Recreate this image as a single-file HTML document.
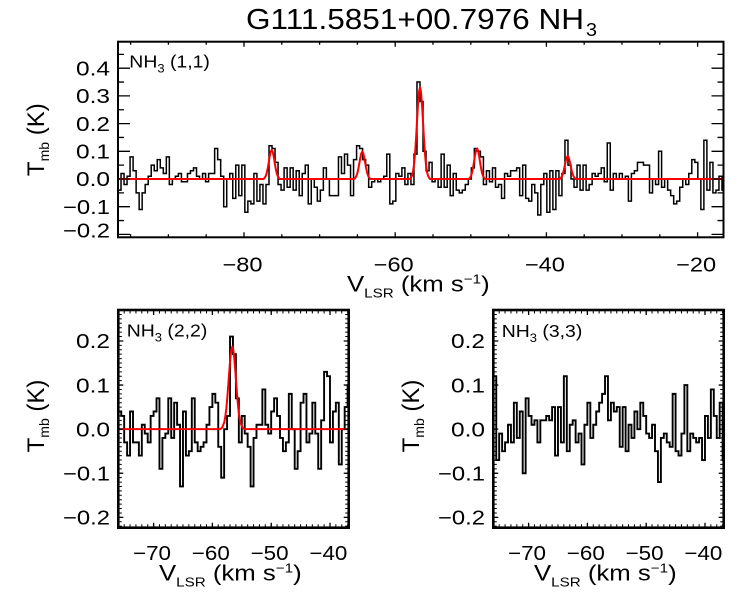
<!DOCTYPE html>
<html>
<head>
<meta charset="utf-8">
<style>
  html, body { margin: 0; padding: 0; background: #ffffff; }
  svg { display: block; }
  text { font-family: "Liberation Sans", Arial, Helvetica, sans-serif; fill: #000; }
</style>
</head>
<body>
<svg width="750" height="600" viewBox="0 0 750 600" xmlns="http://www.w3.org/2000/svg">
  <defs>
    <clipPath id="ctop"><rect x="118" y="41.7" width="605.5" height="195.6"/></clipPath>
    <clipPath id="cbl"><rect x="118.3" y="310" width="230.4" height="217.7"/></clipPath>
    <clipPath id="cbr"><rect x="493.3" y="310" width="230.4" height="217.7"/></clipPath>
  </defs>
  <rect x="0" y="0" width="750" height="600" fill="#fff"/>

  <!-- ================= TITLE ================= -->
  <text x="246" y="29" font-size="29" textLength="338" lengthAdjust="spacingAndGlyphs">G111.5851+00.7976 NH</text>
  <text x="586" y="36" font-size="18" textLength="11" lengthAdjust="spacingAndGlyphs">3</text>

  <!-- ================= TOP PANEL ================= -->
  <g clip-path="url(#ctop)">
    <path transform="matrix(3.02,0,0,-2.77,118,179)" vector-effect="non-scaling-stroke" fill="none" stroke="#000" stroke-width="1.5"
      d="M0 -4H1V2H2V-2H3V1H4V8H5V3H6V-5H7V-11H8V-5H9V-2H10V1H11V5H12V3H13V7H14V4H15V2H16V8H17V-2H18V0H19V1H20V2H21V-1H22V-1H23V2H24V3H25V4H26V1H27V0H28V2H29V-1H30V2H31V2H32V11H33V7H34V1H35V-10H36V0H37V2H38V-7H39V5H40V-6H41V5H42V-12H43V-8H44V-9H45V2H46V-8H47V-2H48V-9H49V-2H50V12H51V11H52V6H53V-2H54V-4H55V4H56V-3H57V4H58V-4H59V3H60V-6H61V2H62V5H63V-9H64V0H65V-3H66V-8H67V-4H68V4H69V0H70V-6H71V-6H72V-6H73V8H74V2H75V9H76V5H77V-6H78V7H79V12H80V11H81V7H82V5H83V-3H84V-1H85V0H86V-1H87V0H88V1H89V9H90V-9H91V-8H92V2H93V1H94V4H95V-2H96V2H97V-2H98V9H99V35H100V28H101V10H102V3H103V6H104V-1H105V0H106V-3H107V9H108V-3H109V5H110V-6H111V2H112V-4H113V-5H114V-4H115V-2H116V0H117V4H118V11H119V10H120V8H121V-2H122V3H123V-1H124V4H125V-3H126V-2H127V-7H128V2H129V1H130V3H131V3H132V4H133V-6H134V5H135V-7H136V-8H137V-2H138V-5H139V-13H140V-2H141V2H142V-12H143V3H144V-11H145V3H146V-6H147V2H148V14H149V5H150V0H151V-3H152V5H153V-4H154V5H155V-4H156V-2H157V2H158V1H159V2H160V4H161V-1H162V13H163V-4H164V2H165V0H166V2H167V0H168V1H169V-8H170V2H171V3H172V6H173V6H174V5H175V5H176V-5H177V0H178V-2H179V10H180V-3H181V0H182V-4H183V-6H184V-9H185V-8H186V-3H187V0H188V-2H189V2H190V7H191V6H192V0H193V-11H194V14H195V-4H196V6H197V-5H198V-4H199V1H200V-4H201.5"/>
    <path fill="none" stroke="#ff0000" stroke-width="2" stroke-linejoin="round"
      d="M118 179H263.7L264.7 177.7 265.7 176.1 266.7 173.1 267.7 168.5 268.7 162.6 269.7 156.4 270.7 151.7 271.7 149.9 272.7 151.7 273.7 156.4 274.7 162.6 275.7 168.5 276.7 173.1 277.7 176.1 278.7 177.7 279.7 179H354.3L355.3 177.8 356.3 176.2 357.3 173.4 358.3 169.1 359.3 163.6 360.3 157.8 361.3 153.3 362.3 151.6 363.3 153.3 364.3 157.8 365.3 163.6 366.3 169.1 367.3 173.4 368.3 176.2 369.3 177.8 370.3 179H410L411 177.6 412 175.7 413 171.8 414 164.9 415 154.1 416 139.1 417 121.6 418 104.5 419 92 420 87.3 421 92 422 104.5 423 121.6 424 139.1 425 154.1 426 164.9 427 171.8 428 175.7 429 177.6 430 179H469L470 177.7 471 175.9 472 172.8 473 168 474 161.8 475 155.4 476 150.4 477 148.5 478 150.4 479 155.4 480 161.8 481 168 482 172.8 483 175.9 484 177.7 485 179H559.7L560.7 178 561.7 176.7 562.7 174.3 563.7 170.7 564.7 166.1 565.7 161.2 566.7 157.4 567.7 156 568.7 157.4 569.7 161.2 570.7 166.1 571.7 170.7 572.7 174.3 573.7 176.7 574.7 178 575.7 179H723.5"/>
  </g>
  <!-- ticks -->
  <path fill="none" stroke="#000" stroke-width="1.3"
    d="M244 237.3v-5M395.2 237.3v-5M546.4 237.3v-5M697.6 237.3v-5
       M244 41.7v5M395.2 41.7v5M546.4 41.7v5M697.6 41.7v5
       M130.6 237.3v-3M168.4 237.3v-3M206.2 237.3v-3M281.8 237.3v-3M319.6 237.3v-3M357.4 237.3v-3M433 237.3v-3M470.8 237.3v-3M508.6 237.3v-3M584.2 237.3v-3M622 237.3v-3M659.8 237.3v-3
       M130.6 41.7v3M168.4 41.7v3M206.2 41.7v3M281.8 41.7v3M319.6 41.7v3M357.4 41.7v3M433 41.7v3M470.8 41.7v3M508.6 41.7v3M584.2 41.7v3M622 41.7v3M659.8 41.7v3
       M118 234.4h12M118 206.7h12M118 179h12M118 151.3h12M118 123.6h12M118 95.9h12M118 68.2h12
       M723.5 234.4h-12M723.5 206.7h-12M723.5 179h-12M723.5 151.3h-12M723.5 123.6h-12M723.5 95.9h-12M723.5 68.2h-12
       M118 220.55h6M118 192.85h6M118 165.15h6M118 137.45h6M118 109.75h6M118 82.05h6M118 54.35h6
       M723.5 220.55h-6M723.5 192.85h-6M723.5 165.15h-6M723.5 137.45h-6M723.5 109.75h-6M723.5 82.05h-6M723.5 54.35h-6"/>
  <rect x="118" y="41.7" width="605.5" height="195.6" fill="none" stroke="#000" stroke-width="2"/>

  <!-- top y tick labels -->
  <g font-size="20">
    <text x="76" y="75.4" textLength="34" lengthAdjust="spacingAndGlyphs">0.4</text>
    <text x="76" y="103.1" textLength="34" lengthAdjust="spacingAndGlyphs">0.3</text>
    <text x="76" y="130.8" textLength="34" lengthAdjust="spacingAndGlyphs">0.2</text>
    <text x="76" y="158.5" textLength="34" lengthAdjust="spacingAndGlyphs">0.1</text>
    <text x="76" y="186.2" textLength="34" lengthAdjust="spacingAndGlyphs">0.0</text>
    <text x="63" y="213.9" textLength="47" lengthAdjust="spacingAndGlyphs">−0.1</text>
    <text x="63" y="237.5" textLength="47" lengthAdjust="spacingAndGlyphs">−0.2</text>
    <!-- top x tick labels -->
    <text x="222.5" y="271.5" textLength="40" lengthAdjust="spacingAndGlyphs">−80</text>
    <text x="373.7" y="271.5" textLength="40" lengthAdjust="spacingAndGlyphs">−60</text>
    <text x="524.9" y="271.5" textLength="40" lengthAdjust="spacingAndGlyphs">−40</text>
    <text x="676.1" y="271.5" textLength="40" lengthAdjust="spacingAndGlyphs">−20</text>
  </g>
  <!-- top x title -->
  <g transform="translate(347,291.5) scale(1.17,1)">
    <text x="0" y="0" font-size="22">V<tspan font-size="13" dy="6">LSR</tspan><tspan font-size="22" dy="-6"> (km s</tspan><tspan font-size="13" dy="-8">−1</tspan><tspan font-size="22" dy="8">)</tspan></text>
  </g>
  <!-- top y title -->
  <g transform="translate(44,139.7) rotate(-90)">
    <text x="0" y="0" font-size="24" text-anchor="middle">T<tspan font-size="14" dy="5">mb</tspan><tspan font-size="24" dy="-5"> (K)</tspan></text>
  </g>
  <!-- top label -->
  <g transform="translate(129.3,67.7) scale(1.08,1)">
    <text x="0" y="0" font-size="18">NH<tspan font-size="12" dy="5">3</tspan><tspan font-size="18" dy="-5"> (1,1)</tspan></text>
  </g>

  <!-- ================= BOTTOM-LEFT PANEL ================= -->
  <g clip-path="url(#cbl)">
    <path transform="matrix(2.94,0,0,-4.41,118.3,429.15)" vector-effect="non-scaling-stroke" fill="none" stroke="#000" stroke-width="1.9"
      d="M0 4H1V3H2V-3H3V-6H4V4H5V-3H6V-3H7V-6H8V1H9V-1H10V-3H11V3H12V4H13V7H14V-9H15V-2H16V-1H17V7H18V-2H19V6H20V1H21V-13H22V4H23V-6H24V-5H25V7H26V-3H27V-5H28V-4H29V-3H30V1H31V5H32V8H33V6H34V-4H35V-11H36V0H37V3H38V21H39V17H40V7H41V-3H42V3H43V-1H44V-4H45V-13H46V-2H47V1H48V1H49V9H50V1H51V-1H52V4H53V7H54V3H55V-2H56V-5H57V-3H58V8H59V0H60V-9H61V-5H62V6H63V8H64V-3H65V-1H66V6H67V-1H68V-9H69V2H70V13H71V12H72V-3H73V4H74V6H75V-8H76V0H77V5H78V10H79"/>
    <path fill="none" stroke="#ff0000" stroke-width="2" stroke-linejoin="round"
      d="M118.3 429.15H220.3L222.3 427.4 224.3 422.1 225.3 416.7 226.3 408.6 227.3 397.7 228.3 384.7 229.3 370.9 230.3 358.4 231.3 349.8 232.3 346.7 233.3 349.8 234.3 358.4 235.3 370.9 236.3 384.7 237.3 397.7 238.3 408.6 239.3 416.7 240.3 422.1 242.3 427.4 244.3 429.15H348.7"/>
  </g>
  <g fill="none" stroke="#000">
    <path stroke-width="1.3"
      d="M153.6 527.7v-5M212.4 527.7v-5M271.2 527.7v-5M330 527.7v-5
         M153.6 310v5M212.4 310v5M271.2 310v5M330 310v5
         M118.3 341h5M118.3 385.05h5M118.3 429.15h5M118.3 473.25h5M118.3 517.35h5
         M348.7 341h-5M348.7 385.05h-5M348.7 429.15h-5M348.7 473.25h-5M348.7 517.35h-5"/>
    <line x1="117.8" y1="525.9" x2="348.7" y2="525.9" stroke-width="3.4" stroke-dasharray="1 4.88"/>
    <line x1="117.8" y1="311.8" x2="348.7" y2="311.8" stroke-width="3.4" stroke-dasharray="1 4.88"/>
    <line x1="120.1" y1="526.67" x2="120.1" y2="309.5" stroke-width="3.4" stroke-dasharray="1 3.41"/>
    <line x1="346.9" y1="526.67" x2="346.9" y2="309.5" stroke-width="3.4" stroke-dasharray="1 3.41"/>
    <rect x="118.3" y="310" width="230.4" height="217.7" stroke-width="2.6"/>
  </g>
  <g font-size="20">
    <text x="76" y="348.2" textLength="34" lengthAdjust="spacingAndGlyphs">0.2</text>
    <text x="76" y="392.25" textLength="34" lengthAdjust="spacingAndGlyphs">0.1</text>
    <text x="76" y="436.35" textLength="34" lengthAdjust="spacingAndGlyphs">0.0</text>
    <text x="63" y="480.45" textLength="47" lengthAdjust="spacingAndGlyphs">−0.1</text>
    <text x="63" y="524.55" textLength="47" lengthAdjust="spacingAndGlyphs">−0.2</text>
    <text x="133" y="560" textLength="38" lengthAdjust="spacingAndGlyphs">−70</text>
    <text x="191.8" y="560" textLength="38" lengthAdjust="spacingAndGlyphs">−60</text>
    <text x="250.6" y="560" textLength="38" lengthAdjust="spacingAndGlyphs">−50</text>
    <text x="309.4" y="560" textLength="38" lengthAdjust="spacingAndGlyphs">−40</text>
  </g>
  <g transform="translate(159,580.5) scale(1.17,1)">
    <text x="0" y="0" font-size="22">V<tspan font-size="13" dy="6">LSR</tspan><tspan font-size="22" dy="-6"> (km s</tspan><tspan font-size="13" dy="-8">−1</tspan><tspan font-size="22" dy="8">)</tspan></text>
  </g>
  <g transform="translate(44,416) rotate(-90)">
    <text x="0" y="0" font-size="24" text-anchor="middle">T<tspan font-size="14" dy="5">mb</tspan><tspan font-size="24" dy="-5"> (K)</tspan></text>
  </g>
  <g transform="translate(126.7,336.7) scale(1.08,1)">
    <text x="0" y="0" font-size="18">NH<tspan font-size="12" dy="5">3</tspan><tspan font-size="18" dy="-5"> (2,2)</tspan></text>
  </g>

  <!-- ================= BOTTOM-RIGHT PANEL ================= -->
  <g clip-path="url(#cbr)">
    <path transform="matrix(2.94,0,0,-4.41,493.3,429.15)" vector-effect="non-scaling-stroke" fill="none" stroke="#000" stroke-width="1.9"
      d="M0 12H1V-7H2V-1H3V-5H4V-3H5V1H6V-3H7V6H8V-2H9V4H10V-10H11V7H12V3H13V1H14V2H15V-3H16V2H17V2H18V3H19V2H20V5H21V-6H22V5H23V-3H24V12H25V-5H26V1H27V2H28V-3H29V-1H30V-8H31V1H32V6H33V-2H34V1H35V4H36V6H37V8H38V12H39V2H40V6H41V4H42V5H43V-4H44V5H45V-5H46V1H47V-2H48V4H49V0H50V6H51V3H52V-1H53V-2H54V1H55V-5H56V-12H57V-2H58V-1H59V-3H60V-4H61V8H62V-5H63V-6H64V-1H65V10H66V-5H67V-1H68V-2H69V-3H70V-2H71V-7H72V3H73V-2H74V9H75V3H76V-2H77V6H78V-7H79"/>
  </g>
  <g fill="none" stroke="#000" transform="translate(375,0)">
    <path stroke-width="1.3"
      d="M153.6 527.7v-5M212.4 527.7v-5M271.2 527.7v-5M330 527.7v-5
         M153.6 310v5M212.4 310v5M271.2 310v5M330 310v5
         M118.3 341h5M118.3 385.05h5M118.3 429.15h5M118.3 473.25h5M118.3 517.35h5
         M348.7 341h-5M348.7 385.05h-5M348.7 429.15h-5M348.7 473.25h-5M348.7 517.35h-5"/>
    <line x1="117.8" y1="525.9" x2="348.7" y2="525.9" stroke-width="3.4" stroke-dasharray="1 4.88"/>
    <line x1="117.8" y1="311.8" x2="348.7" y2="311.8" stroke-width="3.4" stroke-dasharray="1 4.88"/>
    <line x1="120.1" y1="526.67" x2="120.1" y2="309.5" stroke-width="3.4" stroke-dasharray="1 3.41"/>
    <line x1="346.9" y1="526.67" x2="346.9" y2="309.5" stroke-width="3.4" stroke-dasharray="1 3.41"/>
    <rect x="118.3" y="310" width="230.4" height="217.7" stroke-width="2.6"/>
  </g>
  <g font-size="20">
    <text x="451" y="348.2" textLength="34" lengthAdjust="spacingAndGlyphs">0.2</text>
    <text x="451" y="392.25" textLength="34" lengthAdjust="spacingAndGlyphs">0.1</text>
    <text x="451" y="436.35" textLength="34" lengthAdjust="spacingAndGlyphs">0.0</text>
    <text x="438" y="480.45" textLength="47" lengthAdjust="spacingAndGlyphs">−0.1</text>
    <text x="438" y="524.55" textLength="47" lengthAdjust="spacingAndGlyphs">−0.2</text>
    <text x="508" y="560" textLength="38" lengthAdjust="spacingAndGlyphs">−70</text>
    <text x="566.8" y="560" textLength="38" lengthAdjust="spacingAndGlyphs">−60</text>
    <text x="625.6" y="560" textLength="38" lengthAdjust="spacingAndGlyphs">−50</text>
    <text x="684.4" y="560" textLength="38" lengthAdjust="spacingAndGlyphs">−40</text>
  </g>
  <g transform="translate(534,580.5) scale(1.17,1)">
    <text x="0" y="0" font-size="22">V<tspan font-size="13" dy="6">LSR</tspan><tspan font-size="22" dy="-6"> (km s</tspan><tspan font-size="13" dy="-8">−1</tspan><tspan font-size="22" dy="8">)</tspan></text>
  </g>
  <g transform="translate(419,416) rotate(-90)">
    <text x="0" y="0" font-size="24" text-anchor="middle">T<tspan font-size="14" dy="5">mb</tspan><tspan font-size="24" dy="-5"> (K)</tspan></text>
  </g>
  <g transform="translate(501.7,337) scale(1.08,1)">
    <text x="0" y="0" font-size="18">NH<tspan font-size="12" dy="5">3</tspan><tspan font-size="18" dy="-5"> (3,3)</tspan></text>
  </g>
</svg>
</body>
</html>
